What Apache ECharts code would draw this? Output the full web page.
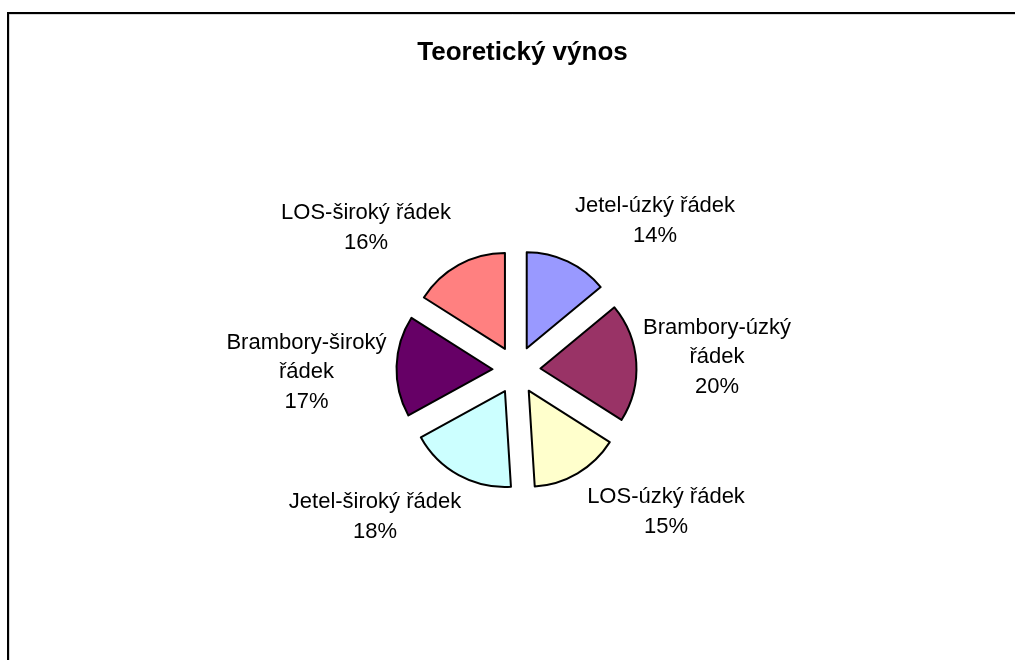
<!DOCTYPE html>
<html>
<head>
<meta charset="utf-8">
<script src="https://cdn.jsdelivr.net/npm/echarts@6/dist/echarts.min.js"></script>
<style>
html,body{margin:0;padding:0;background:#fff;}
#chart{width:1015px;height:660px;}
</style>
</head>
<body>
<div id="chart"></div>
<script>
// Data
const categories = ['Jetel-úzký řádek', 'Brambory-úzký řádek', 'LOS-úzký řádek', 'Jetel-široký řádek', 'Brambory-široký řádek', 'LOS-široký řádek'];
const shares = [14, 20, 15, 18, 17, 16];
const titleText = 'Teoretický výnos';

// Styling (kept separate from data)
const sliceColors = ['#9999FF', '#993366', '#FFFFCC', '#CCFFFF', '#660066', '#FF8080'];
const pieCenter = [516.5, 370];
const pieRadius = 96;
const explode = 24;
// label block centre offsets relative to the pie centre
const labelOffsets = [[138.5, -149], [200.5, -13], [149.5, 142], [-141.5, 147], [-210, 2], [-150.5, -142]];

const FONT = '"Liberation Sans", Arial, sans-serif';

const chart = echarts.init(document.getElementById('chart'), null, {renderer: 'canvas'});

const sliceData = categories.map((c, i) => ({
  name: c,
  value: shares[i],
  selected: true,
  itemStyle: {color: sliceColors[i]}
}));

const labelData = categories.map((c, i) => ({name: c, value: shares[i]}));

// long names wrap at the space, as in the original
function wrapName(n) {
  return n.length > 18 ? n.replace(' ', '\n') : n;
}

chart.setOption({
  animation: false,
  backgroundColor: '#ffffff',
  title: {
    text: titleText,
    left: 517.5,
    textAlign: 'center',
    top: 35,
    textStyle: {fontFamily: FONT, fontSize: 26, fontWeight: 'bold', color: '#000'}
  },
  graphic: [
    {type: 'rect', shape: {x: 9, y: 14, width: 1200, height: 800}, style: {fill: 'none', stroke: '#b0b0b0', lineWidth: 1}, silent: true},
    {type: 'rect', shape: {x: 8, y: 13, width: 1200, height: 800}, style: {fill: 'none', stroke: '#000', lineWidth: 2}, silent: true}
  ],
  series: [
    {
      type: 'pie',
      center: pieCenter,
      radius: pieRadius,
      startAngle: 90,
      clockwise: true,
      selectedMode: 'multiple',
      selectedOffset: explode,
      avoidLabelOverlap: false,
      label: {show: false},
      labelLine: {show: false},
      itemStyle: {borderColor: '#000', borderWidth: 2},
      select: {itemStyle: {borderColor: '#000', borderWidth: 2}},
      emphasis: {disabled: true},
      silent: true,
      data: sliceData
    },
    {
      type: 'pie',
      center: pieCenter,
      radius: pieRadius,
      startAngle: 90,
      clockwise: true,
      silent: true,
      avoidLabelOverlap: false,
      emphasis: {disabled: true},
      itemStyle: {color: 'rgba(0,0,0,0)', borderWidth: 0},
      labelLine: {show: false},
      label: {
        show: true,
        position: 'outside',
        fontFamily: FONT,
        fontSize: 22,
        lineHeight: 29.5,
        color: '#000',
        align: 'center',
        formatter: p => wrapName(p.name) + '\n' + Math.round(p.percent) + '%'
      },
      labelLayout: function (params) {
        const o = labelOffsets[params.dataIndex];
        return {
          x: pieCenter[0] + o[0],
          y: pieCenter[1] + o[1],
          align: 'center',
          verticalAlign: 'middle'
        };
      },
      data: labelData
    }
  ]
});
</script>
</body>
</html>
